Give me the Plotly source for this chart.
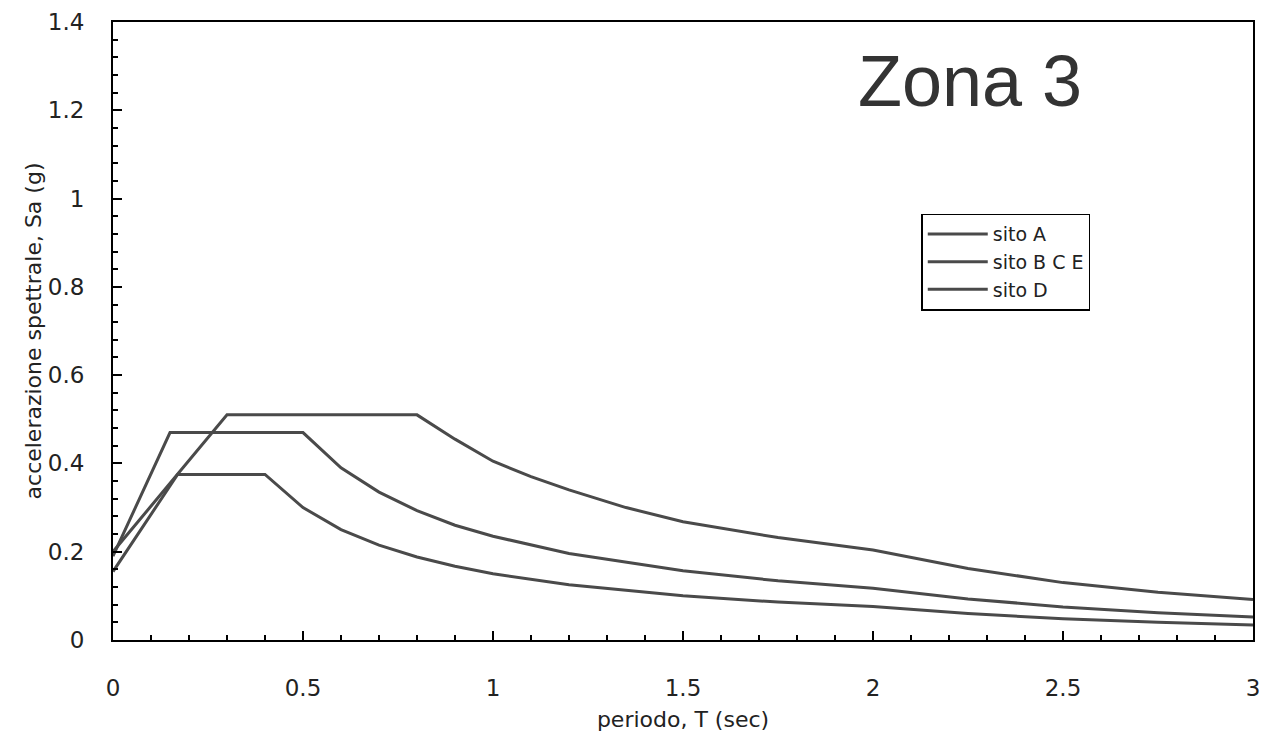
import plotly.graph_objects as go

# Values
T_A = [0, 0.17, 0.4, 0.5, 0.6, 0.7, 0.8, 0.9, 1.0, 1.2, 1.5, 1.75, 2.0, 2.25, 2.5, 2.75, 3.0]
Sa_A = [0.155, 0.375, 0.375, 0.30, 0.25, 0.215, 0.188, 0.167, 0.15, 0.125, 0.10, 0.086, 0.076, 0.060, 0.048, 0.040, 0.034]

T_BCE = [0, 0.15, 0.5, 0.6, 0.7, 0.8, 0.9, 1.0, 1.2, 1.5, 1.75, 2.0, 2.25, 2.5, 2.75, 3.0]
Sa_BCE = [0.19, 0.47, 0.47, 0.39, 0.335, 0.293, 0.26, 0.235, 0.196, 0.157, 0.134, 0.117, 0.093, 0.075, 0.062, 0.052]

T_D = [0, 0.3, 0.8, 0.9, 1.0, 1.1, 1.2, 1.35, 1.5, 1.75, 2.0, 2.25, 2.5, 2.75, 3.0]
Sa_D = [0.20, 0.51, 0.51, 0.455, 0.405, 0.37, 0.34, 0.30, 0.268, 0.232, 0.204, 0.162, 0.13, 0.108, 0.092]

series = [("sito A", T_A, Sa_A), ("sito B C E", T_BCE, Sa_BCE), ("sito D", T_D, Sa_D)]

x_ticks = [0, 0.5, 1, 1.5, 2, 2.5, 3]
x_labels = ["0", "0.5", "1", "1.5", "2", "2.5", "3"]
y_ticks = [0, 0.2, 0.4, 0.6, 0.8, 1.0, 1.2, 1.4]
y_labels = ["0", "0.2", "0.4", "0.6", "0.8", "1", "1.2", "1.4"]

fig = go.Figure()
for name, t, s in series:
    fig.add_trace(go.Scatter(x=t, y=s, mode="lines", name=name,
                             line=dict(color="#4a4a4a", width=3)))

tickfont = dict(family="DejaVu Sans", size=23, color="#222")
titlefont = dict(family="DejaVu Sans", size=22, color="#222")
fig.update_layout(
    width=1266, height=744,
    margin=dict(l=113, r=6, t=22, b=104),
    paper_bgcolor="white", plot_bgcolor="white",
    showlegend=True,
    legend=dict(x=0.709, y=0.69, xanchor="left", yanchor="top",
                bordercolor="black", borderwidth=1.5, bgcolor="white",
                font=dict(family="DejaVu Sans", size=19, color="#222"),
                tracegroupgap=0, itemwidth=60),
    annotations=[dict(text="Zona 3", x=0.752, y=0.905, xref="paper", yref="paper",
                      xanchor="center", yanchor="middle", showarrow=False,
                      font=dict(family="Liberation Sans", size=72, color="#333"))],
)
fig.update_xaxes(range=[0, 3], tickvals=x_ticks, ticktext=x_labels,
                 ticks="inside", ticklen=9, tickwidth=1.5, tickcolor="black",
                 minor=dict(dtick=0.1, ticks="inside", ticklen=5, tickcolor="black"),
                 showline=True, linecolor="black", linewidth=2, mirror=True,
                 showgrid=False, zeroline=False, tickfont=tickfont,
                 ticklabelstandoff=26,
                 title=dict(text="periodo, T (sec)", standoff=12, font=titlefont))
fig.update_yaxes(range=[0, 1.4], tickvals=y_ticks, ticktext=y_labels,
                 ticks="inside", ticklen=9, tickwidth=1.5, tickcolor="black",
                 minor=dict(dtick=0.04, ticks="inside", ticklen=5, tickcolor="black"),
                 showline=True, linecolor="black", linewidth=2, mirror=True,
                 showgrid=False, zeroline=False, tickfont=tickfont,
                 ticklabelstandoff=22,
                 title=dict(text="accelerazione spettrale, Sa (g)", standoff=0, font=titlefont))

fig.write_html("out.html")
